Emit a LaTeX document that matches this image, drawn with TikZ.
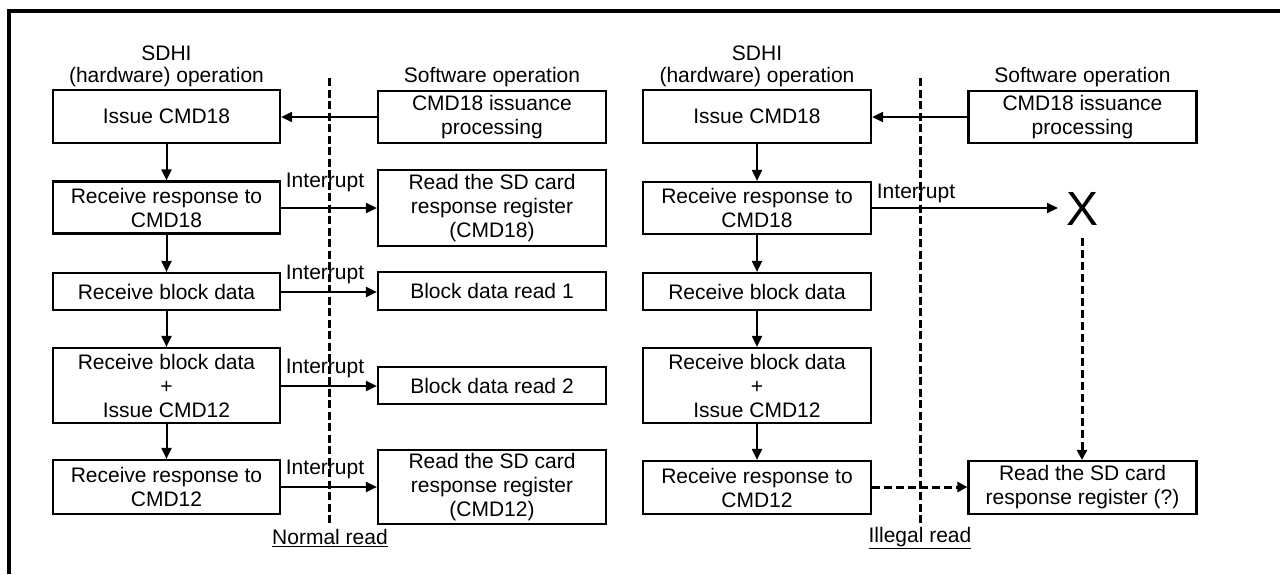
\documentclass[tikz,border=0pt]{standalone}
\usepackage{fontspec}
\setmainfont{Liberation Sans}
\usetikzlibrary{arrows.meta}
\begin{document}
\begin{tikzpicture}[x=1pt,y=-1pt,
  every node/.style={font=\fontsize{21}{24}\selectfont, inner sep=0pt},
  box/.style={draw, line width=2.2pt, align=center, inner sep=0pt},
  arr/.style={line width=2pt, -{Triangle[length=11pt,width=10pt]}},
  darr/.style={line width=3pt, dash pattern=on 8pt off 4pt, -{Triangle[length=10pt,width=10pt]}},
  sep/.style={line width=3pt, dash pattern=on 8pt off 3.5pt}]
\useasboundingbox (0,0) rectangle (1280,574);
% frame
\draw[line width=3.5pt] (9,574) -- (9,11) -- (1280,11);

% ===== Left panel: Normal read =====
\node (tA) at (166.5,53) {SDHI};
\node (tB) at (166.5,77) {(hardware) operation};
\node (tC) at (492,77) {Software operation};

\node[box, minimum width=227, minimum height=53] (h1) at (166.5,116.5) {Issue CMD18};
\node[box, minimum width=227, minimum height=52] (h2) at (166.5,207.5) {Receive response to\\CMD18};
\node[box, minimum width=227, minimum height=37] (h3) at (166.5,291.5) {Receive block data};
\node[box, minimum width=227, minimum height=75] (h4) at (166.5,385.5) {Receive block data\\+\\Issue CMD12};
\node[box, minimum width=227, minimum height=54] (h5) at (166.5,487) {Receive response to\\CMD12};

\node[box, minimum width=228, minimum height=52] (s1) at (492,117) {CMD18 issuance\\processing};
\node[box, minimum width=228, minimum height=76] (s2) at (492,208) {Read the SD card\\response register\\(CMD18)};
\node[box, minimum width=228, minimum height=38] (s3) at (492,291) {Block data read 1};
\node[box, minimum width=228, minimum height=37] (s4) at (492,385.5) {Block data read 2};
\node[box, minimum width=228, minimum height=74] (s5) at (492,487) {Read the SD card\\response register\\(CMD12)};

\coordinate (d1t) at (329,78);
\coordinate (d1b) at (329,523);
\draw[sep] (d1t) -- (d1b);
\node (n1) at (330,538) {\underline{Normal read}};

\draw[arr] (s1.west |- 0,117) -- (h1.east |- 0,117);
\draw[arr] (h1) -- (h2);
\draw[arr] (h2) -- (h3);
\draw[arr] (h3) -- (h4);
\draw[arr] (h4) -- (h5);
\draw[arr] (h2.east |- 0,208) -- (s2.west |- 0,208);
\draw[arr] (h3.east |- 0,292) -- (s3.west |- 0,292);
\draw[arr] (h4.east |- 0,386) -- (s4.west |- 0,386);
\draw[arr] (h5.east |- 0,487) -- (s5.west |- 0,487);
\node (i1) at (325,182) {Interrupt};
\node (i2) at (325,274) {Interrupt};
\node (i3) at (325,368) {Interrupt};
\node (i4) at (325,469) {Interrupt};

% ===== Right panel: Illegal read =====
\node (uA) at (757,53) {SDHI};
\node (uB) at (757,77) {(hardware) operation};
\node (uC) at (1082.5,77) {Software operation};

\node[box, minimum width=228, minimum height=53] (g1) at (757,116.5) {Issue CMD18};
\node[box, minimum width=228, minimum height=52] (g2) at (757,208) {Receive response to\\CMD18};
\node[box, minimum width=228, minimum height=37] (g3) at (757,291.5) {Receive block data};
\node[box, minimum width=228, minimum height=75] (g4) at (757,385.5) {Receive block data\\+\\Issue CMD12};
\node[box, minimum width=228, minimum height=53] (g5) at (757,487.5) {Receive response to\\CMD12};

\node[box, minimum width=228, minimum height=52] (r1) at (1082.5,117) {CMD18 issuance\\processing};
\node[box, minimum width=228, minimum height=53] (r5) at (1082.5,487.5) {Read the SD card\\response register (?)};

\coordinate (d2t) at (920,78);
\coordinate (d2b) at (920,523);
\draw[sep] (d2t) -- (d2b);
\node (n2) at (920,538) {\underline{Illegal read}};

\node[font=\fontsize{48}{48}\selectfont] (X) at (1082,209) {X};

\draw[arr] (r1.west |- 0,117) -- (g1.east |- 0,117);
\draw[arr] (g1) -- (g2);
\draw[arr] (g2) -- (g3);
\draw[arr] (g3) -- (g4);
\draw[arr] (g4) -- (g5);
\draw[arr] (g2.east |- 0,208) -- (1058,208) coordinate (xe);
\node (i5) at (916,193) {Interrupt};
\draw[darr] (1082,238) coordinate (xs) -- (r5.north -| xs);
\draw[darr] (g5.east |- 0,487) -- (r5.west |- 0,487);
\end{tikzpicture}
\end{document}
